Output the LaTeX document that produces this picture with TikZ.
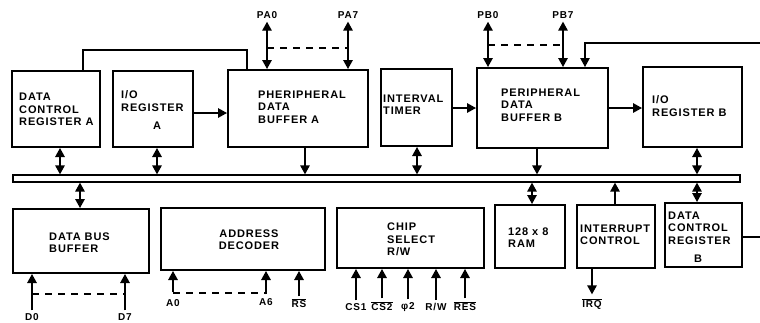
\documentclass[tikz,border=0pt]{standalone}
\usepackage{fontspec}
\setmainfont{Liberation Sans}[LetterSpace=8]
\usetikzlibrary{arrows.meta}
\newcommand\ovl[1]{$\overline{\hbox{#1}}$}
\begin{document}
\begin{tikzpicture}[x=1pt,y=-1pt,
  blk/.style={draw, line width=2pt, inner sep=0pt},
  txt/.style={align=left, inner sep=0pt, font=\fontsize{11}{12.5}\selectfont\bfseries},
  lbl/.style={inner sep=0pt, font=\fontsize{10}{11}\selectfont\bfseries},
  wire/.style={line width=1.4pt},
  thin/.style={line width=1.1pt},
  tip/.style={-{Triangle[length=9pt,width=9.5pt]}},
  bitip/.style={{Triangle[length=9pt,width=9.5pt]}-{Triangle[length=9pt,width=9.5pt]}},
  dsh/.style={line width=1.1pt, dash pattern=on 7pt off 6pt}]
\useasboundingbox (0,0) rectangle (760,322);

% bus
\node[draw, line width=1.3pt, inner sep=0pt, minimum width=727pt, minimum height=7pt] (bus) at (376.5,178.5) {};

% top row boxes
\node[blk, minimum width=88pt, minimum height=76pt] (dcra) at (56,109) {};
\node[txt, anchor=west] (dcrat) at (19,109.5) {DATA\\CONTROL\\REGISTER A};
\node[blk, minimum width=80pt, minimum height=76pt] (iora) at (153,109) {};
\node[txt, anchor=west] (iorat) at (121,101) {I/O\\REGISTER};
\node[txt] (iorat2) at (157,126) {A};
\node[blk, minimum width=140pt, minimum height=77pt] (pdba) at (298,108.5) {};
\node[txt, anchor=west] (pdbat) at (258,107) {PHERIPHERAL\\DATA\\BUFFER A};
\node[blk, minimum width=71pt, minimum height=77pt] (timer) at (416.5,107.5) {};
\node[txt, anchor=west] (timert) at (383,104.5) {INTERVAL\\TIMER};
\node[blk, minimum width=131pt, minimum height=80pt] (pdbb) at (542.5,108) {};
\node[txt, anchor=west] (pdbbt) at (501,105) {PERIPHERAL\\DATA\\BUFFER B};
\node[blk, minimum width=99pt, minimum height=80pt] (iorb) at (692.5,107) {};
\node[txt, anchor=west] (iorbt) at (652,106) {I/O\\REGISTER B};

% bottom row boxes
\node[blk, minimum width=136pt, minimum height=64pt] (dbb) at (81,241) {};
\node[txt, anchor=west] (dbbt) at (49,242.5) {DATA BUS\\BUFFER};
\node[blk, minimum width=164pt, minimum height=62pt] (addr) at (243,239) {};
\node[txt, align=center] (addrt) at (249,239.5) {ADDRESS\\DECODER};
\node[blk, minimum width=147pt, minimum height=60pt] (chip) at (410.5,238) {};
\node[txt, anchor=west] (chipt) at (387,239.5) {CHIP\\SELECT\\R/W};
\node[blk, minimum width=70pt, minimum height=63pt] (ram) at (530,236.5) {};
\node[txt, anchor=west] (ramt) at (508,237.5) {128 x 8\\RAM};
\node[blk, minimum width=78pt, minimum height=63pt] (intr) at (616,236.5) {};
\node[txt, anchor=west] (intrt) at (580,235) {INTERRUPT\\CONTROL};
\node[blk, minimum width=77pt, minimum height=64pt] (dcrb) at (703.5,235) {};
\node[txt, anchor=west] (dcrbt) at (668,228) {DATA\\CONTROL\\REGISTER};
\node[txt] (dcrbt2) at (698,259) {B};

% top row to bus
\draw[wire, bitip] (60,0 |- dcra.south) -- (60,0 |- bus.north);
\draw[wire, bitip] (157,0 |- iora.south) -- (157,0 |- bus.north);
\draw[wire, tip] (305,0 |- pdba.south) -- (305,0 |- bus.north);
\draw[wire, bitip] (417,0 |- timer.south) -- (417,0 |- bus.north);
\draw[wire, tip] (537,0 |- pdbb.south) -- (537,0 |- bus.north);
\draw[wire, bitip] (697,0 |- iorb.south) -- (697,0 |- bus.north);

% bus to bottom row
\draw[wire, bitip] (80,0 |- bus.south) -- (80,0 |- dbb.north);
\draw[wire, bitip] (532,0 |- bus.south) -- (532,0 |- ram.north);
\draw[wire, tip] (615,0 |- intr.north) -- (615,0 |- bus.south);
\draw[wire, bitip] (697,0 |- bus.south) -- (697,0 |- dcrb.north);

% horizontal links
\draw[wire, tip] (iora.east |- 0,113) -- (pdba.west |- 0,113);
\draw[wire, tip] (timer.east |- 0,108) -- (pdbb.west |- 0,108);
\draw[wire, tip] (pdbb.east |- 0,108) -- (iorb.west |- 0,108);

% control wire DCRA -> PDBA
\draw[thin] (83,0 |- dcra.north) -- (83,50) -| (247,0 |- pdba.north);

% port A
\node[lbl] (pa0) at (267,15) {PA0};
\node[lbl] (pa7) at (348,15) {PA7};
\draw[wire, bitip] ([yshift=-3pt]pa0.south) -- (pa0.south |- pdba.north);
\draw[wire, bitip] ([yshift=-3pt]pa7.south) -- (pa7.south |- pdba.north);
\draw[dsh] (267,48) -- (348,48);

% port B
\node[lbl] (pb0) at (488,15) {PB0};
\node[lbl] (pb7) at (563,15) {PB7};
\draw[wire, bitip] ([yshift=-3pt]pb0.south) -- (pb0.south |- pdbb.north);
\draw[wire, bitip] ([yshift=-3pt]pb7.south) -- (pb7.south |- pdbb.north);
\draw[dsh] (488,45) -- (563,45);

% wires from the right edge
\coordinate (rin) at (760,43);
\draw[thin, tip] (rin) -| (585,0 |- pdbb.north);
\coordinate (rout) at (760,237);
\draw[thin] (dcrb.east |- rout) -- (rout);

% data bus inputs
\node[lbl] (d0) at (32,317) {D0};
\node[lbl] (d7) at (125,317) {D7};
\draw[wire, tip] ([yshift=3pt]d0.north) -- (d0.north |- dbb.south);
\draw[wire, tip] ([yshift=3pt]d7.north) -- (d7.north |- dbb.south);
\draw[dsh] (32,294) -- (125,294);

% address inputs
\node[lbl] (a0) at (173,303) {A0};
\node[lbl] (a6) at (266,302) {A6};
\node[lbl] (rs) at (299,303) {\ovl{RS}};
\draw[wire, tip] ([yshift=7pt]a0.north) -- (a0.north |- addr.south);
\draw[wire, tip] ([yshift=4pt]a6.north) -- (a6.north |- addr.south);
\draw[wire, tip] ([yshift=2pt]rs.north) -- (rs.north |- addr.south);
\draw[dsh] (173,293) -- (266,293);

% chip select inputs
\node[lbl] (cs1) at (356,307) {CS1};
\node[lbl] (cs2) at (382,306) {\ovl{CS2}};
\node[lbl] (phi) at (408,307) {φ2};
\node[lbl] (rw) at (436,307) {R/W};
\node[lbl] (res) at (465,306) {\ovl{RES}};
\foreach \n in {cs1,cs2,phi,rw,res}
  \draw[wire, tip] ([yshift=3pt]\n.north) -- (\n.north |- chip.south);

% interrupt output
\node[lbl] (irq) at (592,304) {\ovl{IRQ}};
\draw[wire, tip] (irq.north |- intr.south) -- ([yshift=4pt]irq.north);
\end{tikzpicture}
\end{document}
